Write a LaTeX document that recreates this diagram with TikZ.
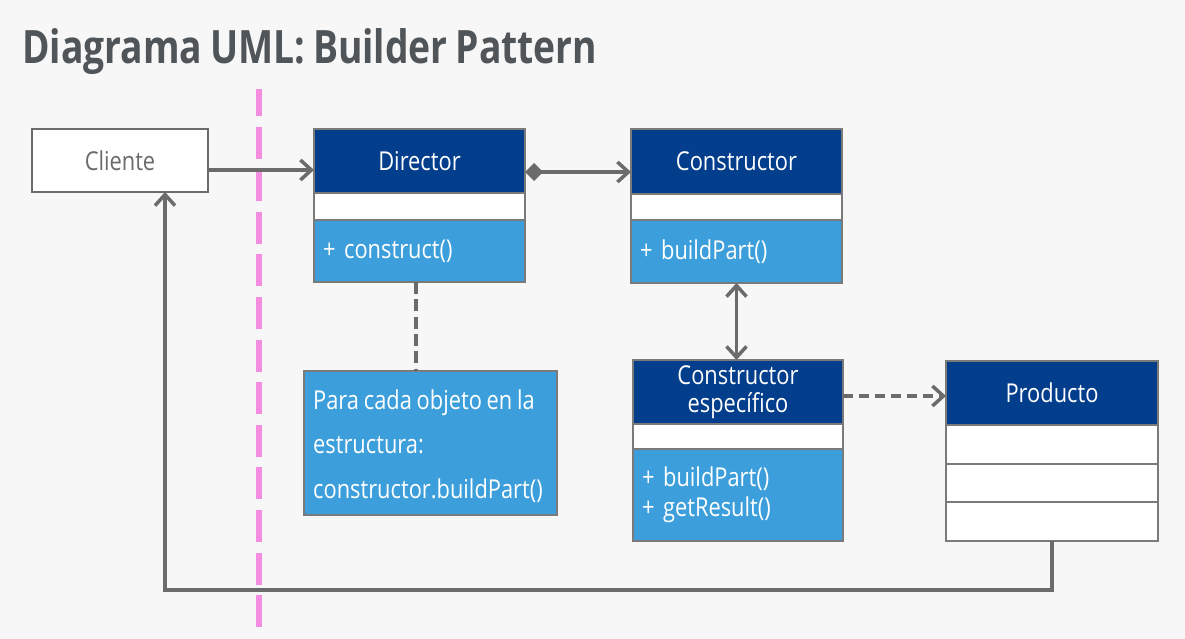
\documentclass[tikz,border=0pt]{standalone}
\usepackage{fontspec}
\setmainfont{Open Sans}[FakeStretch=0.84, WordSpace=0.84]
\newfontfamily\titlefont{Open Sans}[FakeStretch=0.81, WordSpace=0.81]
\usetikzlibrary{arrows.meta}

\definecolor{bg}{HTML}{F7F7F7}
\definecolor{hdr}{HTML}{023E8C}
\definecolor{mth}{HTML}{3C9FDB}
\definecolor{edge}{HTML}{7A7A7A}
\definecolor{wire}{HTML}{6B6B6B}
\definecolor{pinkline}{HTML}{F48DDF}
\definecolor{titlegray}{HTML}{4F5558}

\tikzset{
  box/.style={draw=edge, line width=1.4pt, inner sep=0pt, outer sep=0pt},
  header/.style={box, fill=hdr, text=white, font=\fontsize{26}{28}\selectfont, align=center},
  attrs/.style={box, fill=white},
  methods/.style={box, fill=mth, text=white, font=\fontsize{26}{30}\selectfont, align=left,
                  text width=#1, inner xsep=9pt},
  notebox/.style={box, fill=mth},
  notetext/.style={text=white, font=\fontsize{26}{44.5}\selectfont, align=left, inner sep=0pt, anchor=west},
  conn/.style={draw=wire, line width=3.5pt},
  barb/.tip={Straight Barb[length=11pt, width=20pt, line width=3.5pt]},
  dia/.tip={Diamond[length=18pt, width=18pt]}
}

\begin{document}
\begin{tikzpicture}[x=1pt, y=-1pt]
  % canvas
  \fill[bg] (0,0) rectangle (1185,639);
  \useasboundingbox (0,0) rectangle (1185,639);

  % title
  \node[anchor=west, inner sep=0pt, text=titlegray, font=\titlefont\bfseries\fontsize{46}{50}\selectfont]
    (title) at (22,52) {Diagrama UML: Builder Pattern};

  % boundary line
  \draw[pinkline, line width=6pt, dash pattern=on 32pt off 10.6pt, dash phase=5pt]
    (259,89) -- (259,628);

  % client
  \node[box, line width=2.2pt, draw=wire, fill=white, text=wire, minimum width=176pt, minimum height=63pt,
        font=\fontsize{26}{28}\selectfont] (cli) at (120,160.5) {Cliente};

  % Director
  \node[header, minimum width=211pt, minimum height=64pt] (dir) at (419.5,161) {Director};
  \node[attrs, minimum width=211pt, minimum height=27pt] (dirA) at (419.5,206.5) {};
  \node[methods=193pt, minimum height=62pt] (dirM) at (419.5,251) {+ construct()};

  % Constructor
  \node[header, minimum width=211pt, minimum height=65pt] (con) at (736.5,161.5) {Constructor};
  \node[attrs, minimum width=211pt, minimum height=26pt] (conA) at (736.5,207) {};
  \node[methods=193pt, minimum height=63pt] (conM) at (736.5,251.5) {+ buildPart()};

  % concrete builder
  \node[header, minimum width=210pt, minimum height=64pt] (ce) at (738,392)
    {Constructor\\específico};
  \node[attrs, minimum width=210pt, minimum height=25pt] (ceA) at (738,436.5) {};
  \node[methods=192pt, minimum height=92pt] (ceM) at (738,495)
    {+ buildPart()\\+ getResult()};

  % product
  \node[header, minimum width=212pt, minimum height=64pt] (prod) at (1052,393) {Producto};
  \node[attrs, minimum width=212pt, minimum height=39pt] (pA) at (1052,444.5) {};
  \node[attrs, minimum width=212pt, minimum height=38pt] (pB) at (1052,483) {};
  \node[attrs, minimum width=212pt, minimum height=39pt] (pC) at (1052,521.5) {};

  % note
  \node[notebox, minimum width=253pt, minimum height=144pt] (note) at (430.5,443) {};
  \node[notetext] (noteTxt) at ([xshift=9pt, yshift=-3pt]note.west)
    {Para cada objeto en la\\estructura:\\constructor.buildPart()};

  % connectors
  \draw[conn, -{barb}] ([yshift=-9.5pt]cli.east) coordinate (c1) -- (c1 -| dir.west);
  \draw[conn, {dia}-{barb}] ([yshift=-11pt]dir.east) coordinate (d1) -- (d1 -| con.west);
  \draw[conn, {barb}-{barb}] (conM.south) -- (conM.south |- ce.north);
  \draw[conn, line width=4pt, dash pattern=on 12pt off 5.3pt] ([xshift=-3.5pt]dirM.south) coordinate (n1) -- (n1 |- note.north);
  \draw[conn, dash pattern=on 10pt off 6pt, -{barb}] ([yshift=-4pt]ce.east) coordinate (e1) -- (e1 -| prod.west);
  \draw[conn, line width=4pt, -{barb}] (pC.south) -- ++(0,49) -| ([xshift=45pt]cli.south);
\end{tikzpicture}
\end{document}
